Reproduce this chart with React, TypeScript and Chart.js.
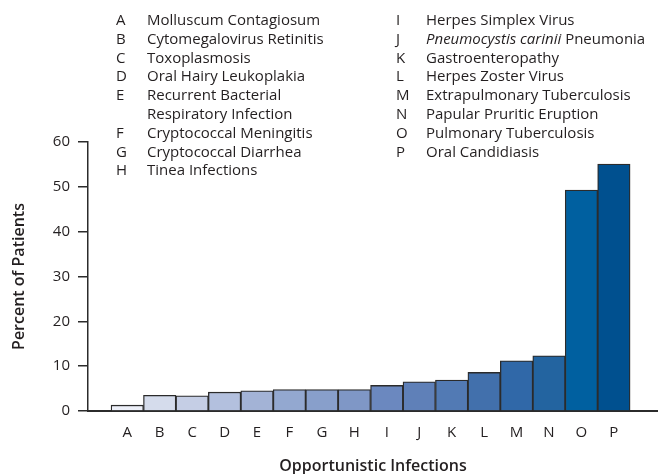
import React, { useEffect, useRef } from "react";
import { Chart, registerables } from "chart.js";

Chart.register(...registerables);

const categories = ["A", "B", "C", "D", "E", "F", "G", "H", "I", "J", "K", "L", "M", "N", "O", "P"];
const percentOfPatients = [1.3, 3.5, 3.4, 4.2, 4.5, 4.8, 4.8, 4.8, 5.7, 6.5, 6.9, 8.6, 11.2, 12.3, 49.3, 55.1];
const barColors = [
  "#eceff8", "#d5dcec", "#c5cee5", "#b3c0de", "#a3b3d6", "#93a8d0", "#889fcb", "#7f97c6",
  "#6b88bf", "#5f80b8", "#527ab4", "#4270ac", "#3068a8", "#2364a0", "#0060a0", "#00508f",
];
const yTicks = [0, 10, 20, 30, 40, 50, 60];
const legendLeft: [string, string][] = [
  ["A", "Molluscum Contagiosum"],
  ["B", "Cytomegalovirus Retinitis"],
  ["C", "Toxoplasmosis"],
  ["D", "Oral Hairy Leukoplakia"],
  ["E", "Recurrent Bacterial"],
  ["", "Respiratory Infection"],
  ["F", "Cryptococcal Meningitis"],
  ["G", "Cryptococcal Diarrhea"],
  ["H", "Tinea Infections"],
];
const legendRight: [string, React.ReactNode][] = [
  ["I", "Herpes Simplex Virus"],
  ["J", <><i>Pneumocystis carinii</i> Pneumonia</>],
  ["K", "Gastroenteropathy"],
  ["L", "Herpes Zoster Virus"],
  ["M", "Extrapulmonary Tuberculosis"],
  ["N", "Papular Pruritic Eruption"],
  ["O", "Pulmonary Tuberculosis"],
  ["P", "Oral Candidiasis"],
];
const xTitle = "Opportunistic Infections";
const yTitle = "Percent of Patients";

const FONT = "'Open Sans', sans-serif";
const TEXT = "#231f20";
const X_MIN = -1.21;
const X_MAX = 16.36;

function LegendCol({ rows, left, nameLeft }: { rows: [string, React.ReactNode][]; left: number; nameLeft: number }) {
  return (
    <div style={{ position: "absolute", left, top: 10, lineHeight: "18.8px", fontSize: 15, fontFamily: FONT, color: TEXT }}>
      {rows.map(([k, name], i) => (
        <div key={i} style={{ display: "flex", whiteSpace: "nowrap" }}>
          <span style={{ width: nameLeft - left, display: "inline-block" }}>{k}</span>
          <span>{name}</span>
        </div>
      ))}
    </div>
  );
}

export default function App() {
  const ref = useRef<HTMLCanvasElement | null>(null);
  useEffect(() => {
    document.body.style.margin = "0";
    const canvas = ref.current!;
    const chart = new Chart(canvas, {
      type: "bar",
      data: {
        datasets: [
          {
            data: percentOfPatients.map((v, i) => ({ x: i, y: v })),
            backgroundColor: barColors,
            borderColor: "#2b2b2b",
            borderWidth: 1.3,
            barPercentage: 1,
            categoryPercentage: 1,
          },
        ],
      },
      options: {
        animation: false,
        responsive: false,
        maintainAspectRatio: false,
        layout: { padding: { top: 142, left: 0, right: 0, bottom: 0 } },
        plugins: { legend: { display: false }, tooltip: { enabled: false } },
        scales: {
          x: {
            type: "linear",
            offset: false,
            min: X_MIN,
            max: X_MAX,
            afterBuildTicks: (s: any) => {
              s.ticks = [{ value: X_MIN }, ...categories.map((_, i) => ({ value: i }))];
            },
            afterFit: (s: any) => {
              s.height = 63;
            },
            ticks: {
              autoSkip: false,
              maxRotation: 0,
              padding: 3,
              color: TEXT,
              font: { family: FONT, size: 15 },
              callback: (v: any) => categories[v as number] ?? "",
            },
            grid: {
              drawOnChartArea: false,
              drawTicks: true,
              tickLength: 10,
              lineWidth: 1.5,
              color: (ctx: any) => (ctx.index === 0 ? "#2b2b2b" : "rgba(0,0,0,0)"),
            },
            border: { display: true, color: "#2b2b2b", width: 2 },
            title: {
              display: true,
              text: xTitle,
              color: TEXT,
              font: { family: FONT, size: 16, weight: "600" },
              padding: { top: 0, bottom: -2 },
            },
          },
          y: {
            min: 0,
            max: 60,
            afterBuildTicks: (s: any) => {
              s.ticks = yTicks.map((v) => ({ value: v }));
            },
            afterFit: (s: any) => {
              s.width = 88;
            },
            ticks: {
              padding: 8,
              color: TEXT,
              font: { family: FONT, size: 15 },
            },
            grid: {
              drawOnChartArea: false,
              drawTicks: true,
              tickLength: 10,
              lineWidth: 1.5,
              color: "#2b2b2b",
            },
            border: { display: true, color: "#2b2b2b", width: 1.5 },
            title: {
              display: true,
              text: yTitle,
              color: TEXT,
              font: { family: FONT, size: 16, weight: "600" },
              padding: { top: 10, bottom: 0 },
            },
          },
        },
      },
    } as any);
    return () => chart.destroy();
  }, []);
  return (
    <div style={{ position: "relative", width: 658, height: 474, background: "#fff" }}>
      <canvas ref={ref} width={658} height={474} style={{ position: "absolute", left: 0, top: 0, width: 658, height: 474 }} />
      <LegendCol rows={legendLeft as any} left={116} nameLeft={147} />
      <LegendCol rows={legendRight} left={396} nameLeft={426} />
    </div>
  );
}
